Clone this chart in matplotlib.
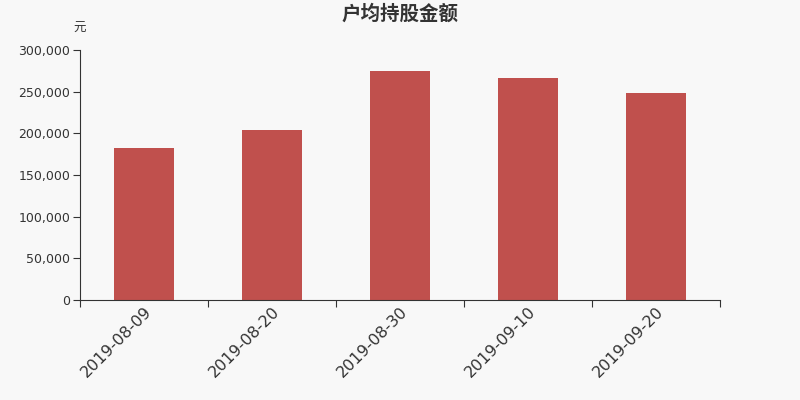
import matplotlib
matplotlib.use('Agg')
from matplotlib import pyplot as plt
from matplotlib.ticker import FuncFormatter
from matplotlib.transforms import ScaledTranslation

plt.rcParams['font.family'] = ['Noto Sans CJK SC', 'DejaVu Sans']

dates = ['2019-08-09', '2019-08-20', '2019-08-30', '2019-09-10', '2019-09-20']
values = [182000, 204000, 274800, 266000, 248800]

bg = '#f8f8f8'
fig = plt.figure(figsize=(8, 4), dpi=100, facecolor=bg)
ax = fig.add_axes([0.1, 0.25, 0.8, 0.625], facecolor=bg)

x = list(range(len(dates)))
ax.bar(x, values, width=0.47, color='#c0504d')

ax.set_xlim(-0.5, len(dates) - 0.5)
ax.set_ylim(0, 300000)
ax.set_yticks(range(0, 300001, 50000))
ax.yaxis.set_major_formatter(FuncFormatter(lambda v, p: f'{int(v):,}'))

ax.set_xticks([i - 0.5 for i in range(len(dates) + 1)])
ax.set_xticklabels([])
ax.set_xticks(x, minor=True)
ax.set_xticklabels(dates, minor=True, rotation=45, ha='right', rotation_mode='anchor',
                   fontsize=11.5, color='#333333', family='DejaVu Sans')
shift = ScaledTranslation(-4 / 100, 0, fig.dpi_scale_trans)
for lab in ax.xaxis.get_minorticklabels():
    lab.set_transform(lab.get_transform() + shift)
ax.tick_params(axis='x', which='minor', length=0, pad=3)
ax.tick_params(axis='x', which='major', length=5, color='#333333')
ax.tick_params(axis='y', length=5, pad=2, color='#333333', labelsize=9, labelcolor='#333333')
for lab in ax.get_yticklabels():
    lab.set_family('DejaVu Sans')

for side in ['top', 'right']:
    ax.spines[side].set_visible(False)
ax.spines['left'].set_color('#333333')
ax.spines['bottom'].set_color('#333333')

fig.text(0.5, 0.966, '户均持股金额', ha='center', va='center', fontsize=14,
         fontweight='bold', color='#333333')
fig.text(0.1, 0.93, '元', ha='center', va='center', fontsize=9, color='#333333')

fig.savefig('out.png', dpi=100, facecolor=bg)
